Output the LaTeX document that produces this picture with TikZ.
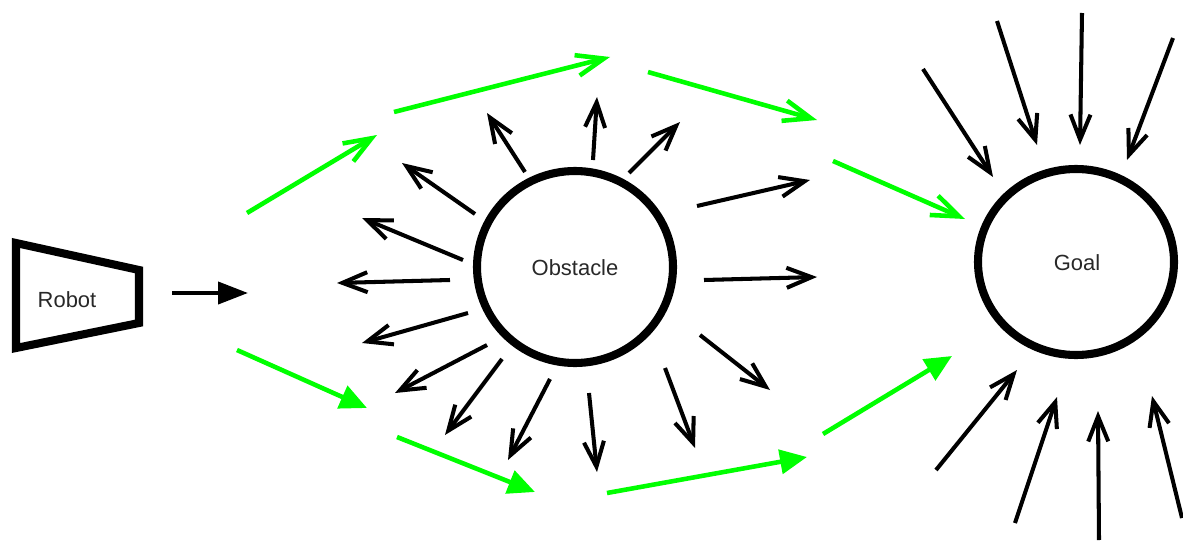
\documentclass[tikz,border=0pt]{standalone}
\usepackage{fontspec}
\setmainfont{Liberation Sans}
\usetikzlibrary{arrows.meta}
\definecolor{vgreen}{RGB}{0,255,0}
\definecolor{txt}{RGB}{40,40,40}
\tikzset{
  shapeline/.style={line width=4.6pt},
  label/.style={font=\fontsize{12.5}{15}\selectfont, text=txt},
  force/.style={line width=2.3pt, -{Straight Barb[length=0.5cm,width=0.4cm]}},
  gopen/.style={vgreen, line width=2.6pt, -{Straight Barb[length=0.55cm,width=0.42cm]}},
  gfill/.style={vgreen, line width=2.6pt, -{Triangle[length=0.54cm,width=0.48cm]}},
  move/.style={line width=2.3pt, -{Triangle[length=0.6cm,width=0.44cm]}}
}
\begin{document}
\begin{tikzpicture}[x=0.02cm, y=-0.02cm]
\useasboundingbox (0,0) rectangle (1183,541);
% robot
\draw[shapeline, line join=miter] (16,243) coordinate (r1) -- (139,270) -- (139,323) -- (16,348) -- cycle;
\node[label] (robot) at (67,300) {Robot};
\coordinate (ms) at (172,293);
\coordinate (me) at (248,293);
\draw[move] (ms) -- (me);
% obstacle
\draw[shapeline] (575,267) ellipse [x radius=98, y radius=96];
\node[label] (obstacle) at (575,268) {Obstacle};
% goal
\draw[shapeline] (1076,262) ellipse [x radius=98, y radius=93];
\node[label] (goal) at (1077,263) {Goal};
% repulsive forces
\foreach \ax/\ay/\bx/\by in {
  525/172/487/113, 593/160/597/97, 629/173/680/122, 475/214/402/163,
  697/206/810/180, 463/260/362/218, 450/280/337/283, 704/280/817/277,
  468/313/362/343, 487/345/395/393, 502/359/445/435, 550/379/508/460,
  589/393/597/472, 665/368/695/448, 700/335/770/390}
  \draw[force] (\ax,\ay) -- (\bx,\by);
% attractive forces
\foreach \ax/\ay/\bx/\by in {
  923/69/993/177, 997/21/1037/145, 1082/13/1080/145, 1173/38/1127/160,
  936/470/1017/370, 1015/523/1057/397, 1099/540/1098/411, 1182/518/1152/396}
  \draw[force] (\ax,\ay) -- (\bx,\by);
% green path
\draw[gopen] (247,213) -- (377,135);
\draw[gopen] (394,112) -- (610,57);
\draw[gopen] (648,72) -- (817,120);
\draw[gopen] (833,161) -- (965,219);
\draw[gfill] (237,350) -- (367,408);
\draw[gfill] (397,437) -- (535,492);
\draw[gfill] (607,493) -- (807,457);
\draw[gfill] (823,434) -- (952,356);
\end{tikzpicture}
\end{document}
